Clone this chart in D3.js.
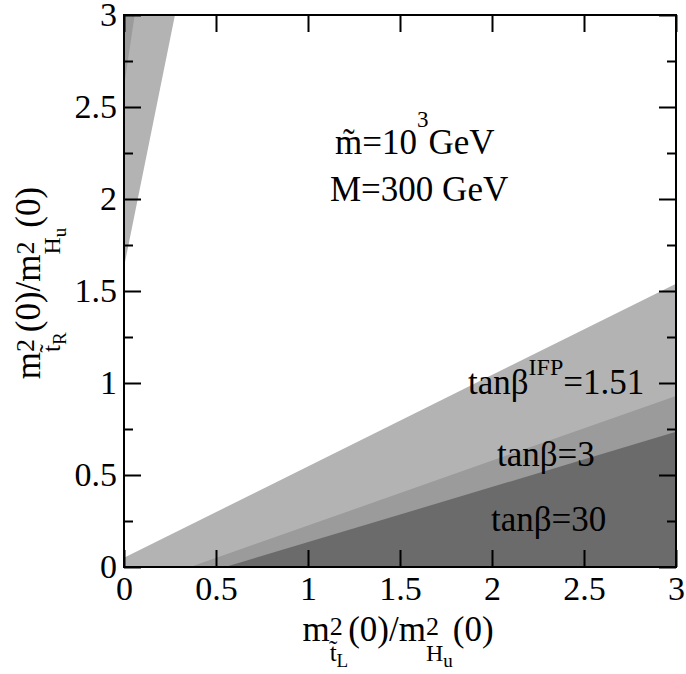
<!DOCTYPE html>
<html>
<head>
<meta charset="utf-8">
<script src="https://cdn.jsdelivr.net/npm/d3@7"></script>
<style>
	body { margin: 0; background: #fff; }
	svg text { font-family: "Liberation Serif", "Times New Roman", Times, "DejaVu Serif", serif !important; fill: #000; }
</style>
</head>
<body>
<div id="chart"></div>
<script>
// tick values and labels
const xTicks = [0, 0.5, 1, 1.5, 2, 2.5, 3];
const xTickLabels = ['0', '0.5', '1', '1.5', '2', '2.5', '3'];
const yTicks = [0, 0.5, 1, 1.5, 2, 2.5, 3];
const yTickLabels = ['0', '0.5', '1', '1.5', '2', '2.5', '3'];
const yMinorTicks = [0.25, 0.75, 1.25, 1.75, 2.25, 2.75];

// region boundaries [x, y], one per tan(beta)
const regionNames = ['tanβIFP=1.51', 'tanβ=3', 'tanβ=30'];
const lowerBoundIFP = [[0, 0.05], [3, 1.54]];
const lowerBound3 = [[0.36, 0], [3, 0.93]];
const lowerBound30 = [[0.55, 0], [3, 0.735]];
const upperBoundIFP = [[0, 1.63], [0.277, 3]];
const upperBound3 = [[0, 2.61], [0.058, 3]];

(() => {
	const margin = { top: 15, right: 10, bottom: 107, left: 124 };
	const width = 552;
	const height = 552;
	const fills = ['#b3b3b3', '#9b9b9b', '#6b6b6b'];
	const font = 35;
	const titleFont = 35;
	const family = '"Liberation Serif", "Times New Roman", Times, "DejaVu Serif", serif';

	const svg = d3.select('#chart').append('svg')
		.attr('width', 686)
		.attr('height', 674)
		.attr('font-family', family);
	const chart = svg.append('g')
		.attr('transform', `translate(${margin.left}, ${margin.top})`);

	const x = d3.scaleLinear().domain([0, 3]).range([0, width]);
	const y = d3.scaleLinear().domain([0, 3]).range([height, 0]);
	const [x0, x1] = x.domain();
	const [y0, y1] = y.domain();

	chart.append('clipPath').attr('id', 'clip')
		.append('rect').attr('width', width).attr('height', height);

	const line = d3.line().x(d => x(d[0])).y(d => y(d[1]));
	const regions = chart.append('g').attr('clip-path', 'url(#clip)');

	// lower regions: below boundary down to the x axis
	const lower = [lowerBoundIFP, lowerBound3, lowerBound30];
	lower.forEach((b, i) => {
		const pts = [[b[0][0], y0], ...b, [x1, y0]];
		regions.append('path')
			.attr('d', line(pts) + 'Z')
			.style('fill', fills[i]);
	});
	// upper-left wedges
	const upper = [upperBoundIFP, upperBound3];
	upper.forEach((b, i) => {
		const pts = [...b, [x0, y1]];
		regions.append('path')
			.attr('d', line(pts) + 'Z')
			.style('fill', fills[i]);
	});

	// axes, ticks pointing inward
	const styleAxis = g => {
		g.attr('font-family', family);
		g.select('.domain').remove();
		g.selectAll('line').style('stroke', '#000').style('stroke-width', 2);
		g.selectAll('text').style('font-size', '34px');
	};

	chart.append('g')
		.attr('transform', `translate(0, ${height})`)
		.call(d3.axisBottom(x).tickValues(xTicks)
			.tickFormat((d, i) => xTickLabels[i])
			.tickSizeInner(-17).tickSizeOuter(0).tickPadding(9))
		.call(styleAxis);
	chart.append('g')
		.call(d3.axisTop(x).tickValues(xTicks).tickFormat('')
			.tickSizeInner(-17).tickSizeOuter(0))
		.call(styleAxis);
	chart.append('g')
		.call(d3.axisLeft(y).tickValues(yTicks)
			.tickFormat((d, i) => yTickLabels[i])
			.tickSizeInner(-17).tickSizeOuter(0).tickPadding(7))
		.call(styleAxis);
	chart.append('g')
		.attr('transform', `translate(${width}, 0)`)
		.call(d3.axisRight(y).tickValues(yTicks).tickFormat('')
			.tickSizeInner(-17).tickSizeOuter(0))
		.call(styleAxis);
	chart.append('g')
		.call(d3.axisLeft(y).tickValues(yMinorTicks).tickFormat('')
			.tickSizeInner(-9).tickSizeOuter(0))
		.call(styleAxis);
	chart.append('g')
		.attr('transform', `translate(${width}, 0)`)
		.call(d3.axisRight(y).tickValues(yMinorTicks).tickFormat('')
			.tickSizeInner(-9).tickSizeOuter(0))
		.call(styleAxis);

	chart.append('rect')
		.attr('width', width).attr('height', height)
		.style('fill', 'none').style('stroke', '#000').style('stroke-width', 2);

	// rich text helper: segments [text, size, dy, dx]
	const rich = (parent, px, py, segs, anchor = 'start') => {
		const t = parent.append('text')
			.attr('x', px).attr('y', py)
			.style('text-anchor', anchor);
		segs.forEach(([s, size, dy, dx]) => {
			t.append('tspan')
				.attr('dy', dy || 0)
				.attr('dx', dx || 0)
				.style('font-size', size + 'px')
				.text(s);
		});
		return t;
	};

	// annotations (page coordinates)
	rich(svg, 335, 154, [['m\u0303=10', font], ['3', 23, -27], ['GeV', font, 27]]);
	rich(svg, 330, 201, [['M=300 GeV', font]]);
	rich(svg, 468, 394, [['tanβ', font], ['IFP', 24, -19], ['=1.51', font, 19]]);
	rich(svg, 497, 466, [['tanβ=3', font]]);
	rich(svg, 491, 531, [['tanβ=30', font]]);

	// axis titles
	const title = sub => [
		['m', titleFont], ['2', 26, -6], ['t\u0303', 25, 26, -13], [sub, 19, 6],
		['(0)/m', titleFont, -26], ['2', 26, -6], ['H', 24, 26, -13], ['u', 19, 6],
		['(0)', titleFont, -26]
	];
	rich(svg, 398, 641, title('L'), 'middle');
	rich(svg, 0, 0, title('R'), 'middle')
		.attr('transform', 'translate(40, 283) rotate(-90)');
})();
</script>
</body>
</html>
